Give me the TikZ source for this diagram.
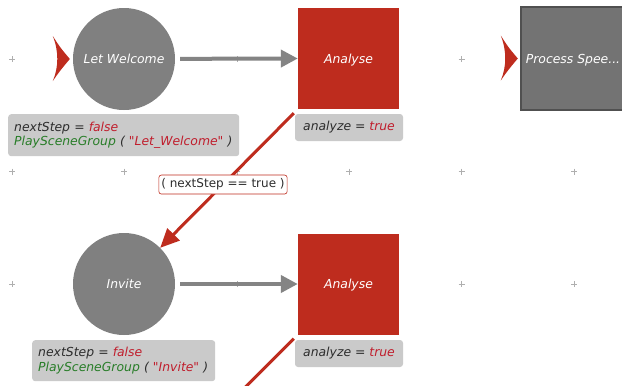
\documentclass[tikz,border=0pt]{standalone}
\usepackage{fontspec}
\newfontfamily\dvsans{DejaVu Sans}
\usetikzlibrary{arrows.meta,calc}
\definecolor{stred}{RGB}{190,44,30}
\definecolor{stgray}{RGB}{128,128,128}
\definecolor{arrowgray}{RGB}{132,132,132}
\definecolor{labgray}{RGB}{202,202,202}
\definecolor{txdark}{RGB}{45,45,45}
\definecolor{txred}{RGB}{192,30,45}
\definecolor{txgreen}{RGB}{40,125,40}
\definecolor{procfill}{RGB}{115,115,115}
\definecolor{procborder}{RGB}{80,80,80}
\definecolor{gridgray}{RGB}{175,175,175}
\newcommand{\vdark}[1]{\textcolor{txdark}{#1}}
\newcommand{\vredt}[1]{\textcolor{txred}{#1}}
\newcommand{\vgreent}[1]{\textcolor{txgreen}{#1}}
\begin{document}
\begin{tikzpicture}[x=1pt,y=-1pt,
  every node/.style={font=\dvsans\fontsize{12.4}{15}\selectfont},
  statecircle/.style={circle,fill=stgray,minimum size=102pt,inner sep=0pt,text=white,text height=9pt,text depth=0pt,font=\dvsans\itshape\fontsize{12.4}{14}\selectfont},
  statesquare/.style={rectangle,fill=stred,minimum width=101pt,minimum height=101pt,inner sep=0pt,text=white,text height=9pt,text depth=0pt,font=\dvsans\itshape\fontsize{12.4}{14}\selectfont},
  procbox/.style={rectangle,fill=procfill,draw=procborder,line width=2.5pt,minimum width=104pt,minimum height=103pt,inner sep=0pt,text=white,text height=9pt,text depth=0pt,font=\dvsans\itshape\fontsize{12.4}{14}\selectfont},
  actionlabel/.style={rectangle,rounded corners=3pt,fill=labgray,inner xsep=6pt,inner ysep=2pt,align=left,font=\dvsans\itshape\fontsize{12.4}{14.5}\selectfont},
  condlabel/.style={rectangle,rounded corners=2.5pt,fill=white,draw=stred,line width=0.6pt,inner xsep=2.5pt,inner ysep=2pt,text=txdark,minimum height=19pt,font=\dvsans\fontsize{12}{14}\selectfont},
  grayarrow/.style={draw=arrowgray,line width=4pt,-{Triangle[length=17pt,width=17pt]},shorten <=5pt},
  redarrow/.style={draw=stred,line width=3pt,-{Triangle[length=19pt,width=17pt]}},
  redline/.style={draw=stred,line width=3pt},
  gridmark/.style={draw=gridgray,line width=0.5pt},
  entrymark/.pic={\fill[stred] (-17,-23) .. controls (-10,-12) .. (0,0) .. controls (-10,12) .. (-17,22) .. controls (-11,8) and (-11,-8) .. (-17,-23) -- cycle;}
]
\useasboundingbox (0,0) rectangle (622,386);
\fill[white] (0,0) rectangle (622,386);
% grid marks
\foreach \gx in {12,124.4,236.8,349.2,461.6,574}
  \foreach \gy in {59,171.5,284}
    \draw[gridmark] (\gx-3,\gy) -- (\gx+3,\gy) (\gx,\gy-3) -- (\gx,\gy+3);

% states
\node[statecircle] (wel) at (124,59) {Let Welcome};
\node[statesquare] (an1) at (348.5,58.5) {Analyse};
\node[procbox] (proc) at (573,58.5) {Process Spee...};
\node[statecircle] (inv) at (124,284) {Invite};
\node[statesquare] (an2) at (348.5,284) {Analyse};

% entry markers
\pic at ($(wel.west)+(-3,0)$) {entrymark};
\pic at ($(proc.west)+(-2,0)$) {entrymark};

% action labels
\node[actionlabel,anchor=north west,minimum width=231pt,minimum height=42pt,text width=219pt] (lab1) at (8,114)
  {\vdark{nextStep} \vdark{=} \vredt{false}\\\vgreent{PlaySceneGroup} \vdark{(} \vredt{"Let\_Welcome"} \vdark{)}};
\node[actionlabel,anchor=center,minimum width=108pt,minimum height=27pt] (lab2) at (349,127.5)
  {\vdark{analyze} \vdark{=} \vredt{true}};
\node[actionlabel,anchor=north west,minimum width=183pt,minimum height=41pt,text width=171pt] (lab3) at (32,340)
  {\vdark{nextStep} \vdark{=} \vredt{false}\\\vgreent{PlaySceneGroup} \vdark{(} \vredt{"Invite"} \vdark{)}};
\node[actionlabel,anchor=center,minimum width=108pt,minimum height=27pt] (lab4) at (349,353.5)
  {\vdark{analyze} \vdark{=} \vredt{true}};

% transitions
\draw[grayarrow] (wel) -- (an1.west);
\draw[grayarrow] (inv) -- (an2.west);
\coordinate (s1) at ($(an1.south west)+(-4,4)$);
\draw[redarrow] (s1) -- (inv.north east)
  node[condlabel,pos=0.53] (cond1) {( nextStep == true )};
\coordinate (s2) at ($(an2.south west)+(-4,4)$);
\coordinate (e2) at ($(s2)+(-60,60)$);
\draw[redline] (s2) -- (e2);
\end{tikzpicture}
\end{document}
